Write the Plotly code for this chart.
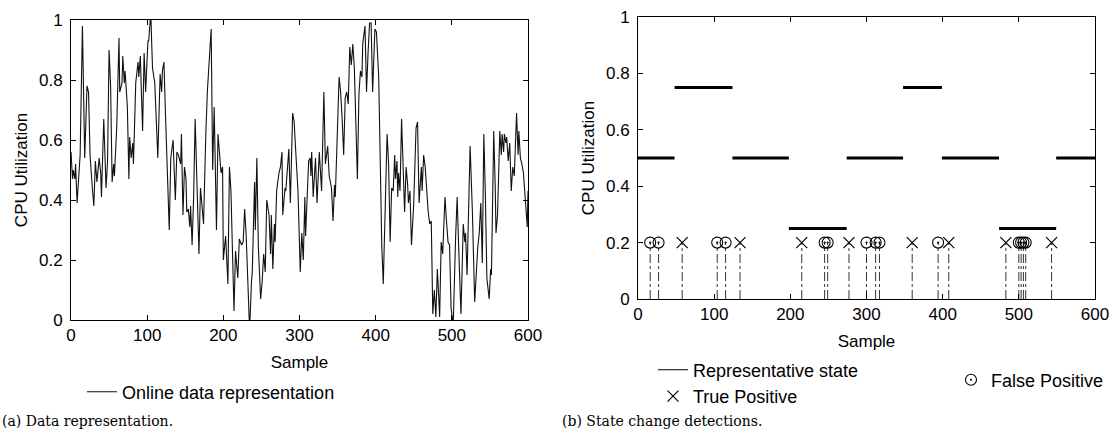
import plotly.graph_objects as go

# ---------------- data: (a) online data representation ----------------
sample_a = [
    0, 2, 3, 5, 6, 8, 12, 15, 18, 21,
    23, 25, 28, 30, 32, 34, 37, 39, 40, 43,
    46, 48, 50, 52, 54, 56, 57, 60, 63, 64,
    67, 68, 70, 71, 74, 76, 77, 79, 81, 82,
    85, 88, 89, 91, 94, 96, 98, 101, 102, 104,
    105, 107, 110, 114, 117, 119, 120, 122, 124, 127,
    129, 131, 134, 137, 139, 141, 144, 145, 147, 149,
    151, 152, 154, 156, 157, 159, 161, 163, 166, 168,
    170, 174, 177, 179, 184, 186, 188, 191, 193, 197,
    199, 200,
    203, 206, 208, 210, 214, 216, 219, 221, 224, 226,
    228, 230, 234, 235, 237, 238, 241, 242, 244, 246,
    249, 251, 253, 255, 257, 260, 262, 263, 265, 267,
    268, 270, 273, 275, 277, 278, 281, 282, 286, 288,
    291, 293, 294, 298, 301, 303, 305, 307, 308, 312,
    314, 315, 316, 318, 321, 323, 326, 329, 332, 334,
    337, 339, 342, 344, 346, 347, 352, 354, 356, 358,
    360, 362, 364, 366, 368, 370, 372, 374, 376, 378,
    380, 382, 383, 386, 388, 390, 392, 394, 396,
    399, 401, 402, 404, 406, 408, 410, 412, 415, 417,
    419, 421, 423, 425, 426, 428, 429, 430, 432, 434,
    436, 438, 440, 442, 443, 445, 447, 450, 453, 455,
    457, 460, 461, 463, 465, 467, 469, 471, 473, 475,
    477, 479, 481, 484, 486, 488, 491, 493, 495, 497,
    499, 501, 502, 505, 507, 509, 512, 515, 517, 518,
    520, 524, 527, 530, 532, 534, 536, 538, 540, 542,
    544, 546, 549, 551, 552, 555, 557, 558, 560, 563,
    565, 566, 568, 569, 571, 572, 574, 576, 578, 580,
    582, 585, 587, 588, 590, 592, 594, 596, 598, 599,
    600,
]
util_a = [
    0.56, 0.47, 0.50, 0.47, 0.52, 0.39, 0.55, 0.98, 0.54, 0.78,
    0.76, 0.55, 0.44, 0.38, 0.53, 0.46, 0.54, 0.49, 0.41, 0.67,
    0.44, 0.53, 0.90, 0.78, 0.46, 0.52, 0.48, 0.64, 0.94, 0.76,
    0.79, 0.88, 0.79, 0.83, 0.71, 0.47, 0.61, 0.54, 0.59, 0.52,
    0.79, 0.86, 0.81, 0.88, 0.63, 0.89, 0.76, 0.93, 0.93, 1.00,
    1.00, 0.84, 0.79, 0.54, 0.82, 0.76, 0.83, 0.86, 0.69, 0.42,
    0.30, 0.54, 0.60, 0.40, 0.56, 0.55, 0.52, 0.62, 0.35, 0.51,
    0.47, 0.36, 0.37, 0.31, 0.38, 0.25, 0.41, 0.67, 0.44, 0.22,
    0.44, 0.32, 0.62, 0.76, 0.97, 0.50, 0.71, 0.30, 0.62, 0.49,
    0.51, 0.20,
    0.28, 0.12, 0.51, 0.43, 0.03, 0.23, 0.14, 0.27, 0.25, 0.26,
    0.37, 0.28, 0.00, 0.00, 0.13, 0.16, 0.46, 0.30, 0.54, 0.24,
    0.07, 0.13, 0.22, 0.16, 0.40, 0.35, 0.22, 0.35, 0.17, 0.32,
    0.26, 0.43, 0.49, 0.51, 0.56, 0.35, 0.44, 0.43, 0.57, 0.39,
    0.69, 0.66, 0.61, 0.43, 0.16, 0.29, 0.20, 0.41, 0.28, 0.53,
    0.54, 0.48, 0.56, 0.41, 0.54, 0.39, 0.56, 0.43, 0.76, 0.52,
    0.58, 0.48, 0.44, 0.33, 0.45, 0.41, 0.81, 0.76, 0.67, 0.55,
    0.74, 0.76, 0.72, 0.91, 0.85, 0.92, 0.84, 0.69, 0.47, 0.75,
    0.83, 0.81, 0.92, 0.98, 0.76, 0.89, 0.99, 0.99, 0.76,
    0.97, 0.96, 0.91, 0.81, 0.53, 0.25, 0.12, 0.29, 0.62, 0.52,
    0.26, 0.44, 0.43, 0.55, 0.47, 0.53, 0.41, 0.49, 0.43, 0.67,
    0.48, 0.36, 0.51, 0.45, 0.39, 0.43, 0.25, 0.39, 0.64, 0.66,
    0.39, 0.51, 0.43, 0.55, 0.51, 0.42, 0.36, 0.32, 0.33, 0.02,
    0.10, 0.01, 0.17, 0.01, 0.26, 0.22, 0.41, 0.33, 0.26, 0.25,
    0.04, 0.00, 0.00, 0.28, 0.41, 0.24, 0.02, 0.32, 0.26, 0.29,
    0.15, 0.58, 0.36, 0.06, 0.17, 0.24, 0.29, 0.39, 0.19, 0.62,
    0.42, 0.14, 0.07, 0.17, 0.15, 0.63, 0.44, 0.29, 0.35, 0.63,
    0.55, 0.62, 0.56, 0.62, 0.59, 0.61, 0.53, 0.59, 0.43, 0.51,
    0.48, 0.69, 0.55, 0.63, 0.54, 0.52, 0.49, 0.42, 0.33, 0.31,
    0.43,
]

# ---------------- data: (b) state change detections ----------------
state_start = [0, 48, 124, 198, 274, 348, 399, 474, 549]
state_end = [48, 124, 198, 274, 348, 399, 474, 549, 600]
state_level = [0.5, 0.75, 0.5, 0.25, 0.5, 0.75, 0.5, 0.25, 0.5]

true_pos = [58, 134, 215, 277, 360, 408, 483, 543]
false_pos = [16, 27, 104, 115, 245, 249, 300, 312, 317, 394, 500, 503, 506, 509]
detect_level = 0.2

x_ticks = [0, 100, 200, 300, 400, 500, 600]
y_ticks = [0, 0.2, 0.4, 0.6, 0.8, 1]
y_tick_text = ["0", "0.2", "0.4", "0.6", "0.8", "1"]

# ---------------- build traces ----------------
W, H = 1113, 434
FONT = "Liberation Sans, Arial, Helvetica, sans-serif"
FS = 17
LFS = 18

state_x, state_y = [], []
for s, e, lv in zip(state_start, state_end, state_level):
    state_x += [s, e, None]
    state_y += [lv, lv, None]

stem_x, stem_y = [], []
for d in sorted(true_pos + false_pos):
    stem_x += [d, d, None]
    stem_y += [0, detect_level, None]

fig = go.Figure()

fig.add_trace(go.Scatter(
    x=sample_a, y=util_a, mode="lines", name="Online data representation",
    line=dict(color="#111111", width=1.1), xaxis="x", yaxis="y",
    legend="legend", showlegend=True))

fig.add_trace(go.Scatter(
    x=stem_x, y=stem_y, mode="lines", showlegend=False, hoverinfo="skip",
    line=dict(color="#333333", width=1, dash="dashdot"),
    xaxis="x2", yaxis="y2"))

fig.add_trace(go.Scatter(
    x=state_x, y=state_y, mode="lines", name="Representative state",
    line=dict(color="black", width=3.2), xaxis="x2", yaxis="y2",
    showlegend=False))

# legend entry for the state (thin line sample as in the original legend)
fig.add_trace(go.Scatter(
    x=[None], y=[None], mode="lines", name="Representative state",
    line=dict(color="black", width=1.1), xaxis="x2", yaxis="y2",
    legend="legend2"))

fig.add_trace(go.Scatter(
    x=true_pos, y=[detect_level] * len(true_pos), mode="markers",
    name="True Positive",
    marker=dict(symbol="x-thin-open", size=11, color="black",
                line=dict(color="black", width=1.2)),
    xaxis="x2", yaxis="y2", legend="legend2"))

fig.add_trace(go.Scatter(
    x=false_pos, y=[detect_level] * len(false_pos), mode="markers",
    name="False Positive",
    marker=dict(symbol="circle-open-dot", size=11, color="black",
                line=dict(color="black", width=1.1)),
    xaxis="x2", yaxis="y2", legend="legend3"))

axis_common = dict(
    showline=True, linecolor="black", linewidth=1, mirror="ticks",
    ticks="inside", ticklen=5, tickwidth=1, tickcolor="black",
    showgrid=False, zeroline=False, automargin=False,
    tickfont=dict(family=FONT, size=FS, color="black"),
)

xa = dict(axis_common, range=[0, 600], tickvals=x_ticks,
          title=dict(text="Sample", font=dict(family=FONT, size=FS, color="black"), standoff=11))
ya = dict(axis_common, range=[0, 1], tickvals=y_ticks, ticktext=y_tick_text,
          ticklabelstandoff=4,
          title=dict(text="CPU Utilization", font=dict(family=FONT, size=FS, color="black"), standoff=7))

fig.update_layout(
    width=W, height=H,
    margin=dict(l=0, r=0, t=0, b=0),
    paper_bgcolor="white", plot_bgcolor="white",
    font=dict(family=FONT, size=FS, color="black"),
    xaxis=dict(xa, domain=[71 / W, 528 / W], anchor="y"),
    yaxis=dict(ya, domain=[1 - 320 / H, 1 - 20 / H], anchor="x"),
    xaxis2=dict(xa, domain=[638 / W, 1095 / W], anchor="y2"),
    yaxis2=dict(ya, domain=[1 - 299 / H, 1 - 17 / H], anchor="x2"),
    legend=dict(x=82 / W, y=1 - 392 / H, xanchor="left", yanchor="middle",
                bgcolor="rgba(0,0,0,0)", font=dict(family=FONT, size=LFS),
                itemwidth=30, tracegroupgap=0),
    legend2=dict(x=653 / W, y=1 - 383 / H, xanchor="left", yanchor="middle",
                 bgcolor="rgba(0,0,0,0)", font=dict(family=FONT, size=LFS),
                 itemwidth=30, tracegroupgap=0),
    legend3=dict(x=951 / W, y=1 - 380 / H, xanchor="left", yanchor="middle",
                 bgcolor="rgba(0,0,0,0)", font=dict(family=FONT, size=LFS),
                 itemwidth=30, tracegroupgap=0),
    annotations=[
        dict(text="(a) Data representation.", x=0, y=1 - 421 / H,
             xref="paper", yref="paper", xanchor="left", yanchor="middle",
             showarrow=False, font=dict(family="DejaVu Serif, serif", size=14, color="black")),
        dict(text="(b) State change detections.", x=560 / W, y=1 - 421 / H,
             xref="paper", yref="paper", xanchor="left", yanchor="middle",
             showarrow=False, font=dict(family="DejaVu Serif, serif", size=14, color="black")),
    ],
)

fig.write_html("out.html")
